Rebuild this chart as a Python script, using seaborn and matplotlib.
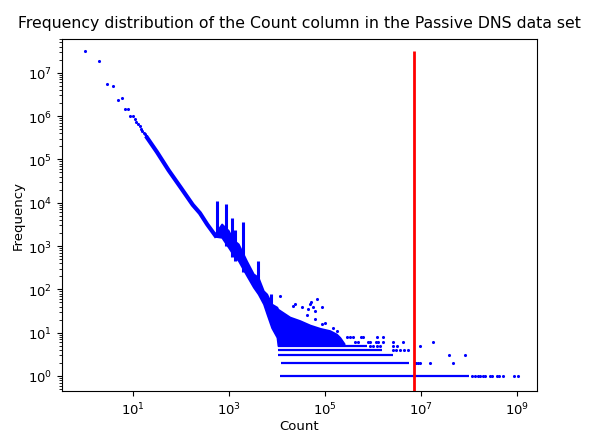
import matplotlib
matplotlib.use("Agg")
import matplotlib.pyplot as plt
import seaborn as sns
import pandas as pd
import numpy as np
from matplotlib.ticker import LogLocator, NullLocator, NullFormatter

# ---- values ----
# single counts with their own dots (count -> frequency)
low_count = [1, 2, 3, 4, 5, 6, 7, 8, 9, 10, 11, 12, 13, 14, 15, 16, 17, 18, 19, 20]
low_freq = [3.1e7, 1.85e7, 5.5e6, 5.0e6, 2.4e6, 2.6e6, 1.45e6, 1.45e6, 1.0e6, 1.0e6,
            850000, 740000, 650000, 575000, 510000, 460000, 415000, 380000, 345000, 316000]

# dense diagonal ridge (too dense to tell dots apart)
ridge_count = [20, 32, 56, 100, 178, 251, 355, 525]
ridge_freq = [316000, 148000, 56000, 22400, 8900, 5750, 3160, 1740]

# dense cloud: lower and upper edge
cloud_count = [525, 710, 980, 1230, 1580, 2340, 3240, 4070, 5250, 6170, 7760, 10000,
               10500, 18600, 30200, 49000, 79400, 126000, 174000, 204000, 251000]
cloud_low = [1660, 1580, 930, 630, 457, 209, 112, 78, 46, 27, 13, 7.8,
             5, 5, 5, 5, 5, 5, 5, 5, 5]
cloud_high = [2000, 3240, 2290, 1410, 1120, 457, 229, 191, 93, 78, 46, 39,
              35, 23, 19, 15, 12.6, 11.2, 9.3, 7.8, 5.6]

# spikes
spike_count = [560, 860, 1150, 1350, 1950, 4100, 7600]
spike_base = [1600, 1000, 560, 450, 250, 90, 20]
spike_peak = [11200, 9300, 4500, 2300, 3550, 457, 78]

# continuous horizontal bands at small frequencies
band_freq = [1, 2, 3, 4, 5]
band_start = [11500, 12300, 10500, 10500, 10500]
band_end = [1.0e8, 5.5e6, 2.6e6, 1.5e6, 7.4e5]

# sparse dots
sparse_count = [1.15e8, 1.3e8, 1.5e8, 1.7e8, 1.9e8, 2.15e8, 2.7e8, 3.0e8, 3.7e8, 4.2e8, 5.0e8, 8.5e8, 1.05e9,
                7.9e6, 8.7e6, 9.3e6, 1.5e7, 4.6e7,
                3.8e7, 8.3e7,
                2.6e6, 3.0e6, 3.7e6, 4.5e6, 5.4e6,
                8.7e5, 1.0e6, 1.2e6, 1.4e6, 2.6e6, 3.1e6, 9.3e6,
                417000, 490000, 794000, 871000, 1175000, 1290000, 1620000, 2630000, 4270000, 17800000,
                282000, 331000, 389000, 575000, 631000, 1230000, 1620000,
                11500, 21900, 24000, 33100, 41700, 44700, 49000, 51300, 57500, 61700, 61700,
                69200, 85100, 85100, 100000, 148000, 174000]
sparse_freq = [1] * 13 + [2] * 5 + [3] * 2 + [4] * 5 + [5] * 7 + [6] * 10 + [8] * 7 + \
              [71, 42, 46, 39, 25, 35, 46, 50, 39, 32, 21, 60, 40, 16, 17, 13, 11]

threshold = 7.0e6
max_freq = 3.1e7

# ---- drawing ----
fig = plt.figure(figsize=(5.89, 4.35), dpi=100)
ax = fig.add_axes([0.1053, 0.0989, 0.8064, 0.8091])
ax.set_xscale("log")
ax.set_yscale("log")

blue = "#0000ff"
ax.fill_between(cloud_count, cloud_low, cloud_high, color=blue, linewidth=1.2, edgecolor=blue)
sns.lineplot(x=ridge_count, y=ridge_freq, sort=False, estimator=None, color=blue,
             linewidth=3.0, ax=ax)
ax.vlines(spike_count, spike_base, spike_peak, color=blue, linewidth=2.2)
ax.hlines(band_freq, band_start, band_end, color=blue, linewidth=1.6)

pts = pd.DataFrame({"Count": low_count + sparse_count, "Frequency": low_freq + sparse_freq})
sns.scatterplot(data=pts, x="Count", y="Frequency", color=blue, s=5, linewidth=0, ax=ax)

ax.vlines([threshold], 0.3, max_freq, color="red", linewidth=2.0)

ax.set_xlim(0.34, 2.57e9)
ax.set_ylim(0.45, 6.0e7)
ax.set_xticks([1e1, 1e3, 1e5, 1e7, 1e9])
ax.xaxis.set_minor_locator(NullLocator())
ax.yaxis.set_major_locator(LogLocator(base=10, numticks=20))
ax.yaxis.set_minor_locator(LogLocator(base=10, subs=np.arange(2, 10), numticks=20))
ax.yaxis.set_minor_formatter(NullFormatter())
ax.tick_params(labelsize=9.5)

ax.set_xlabel("Count", fontsize=9.5, labelpad=1)
ax.set_ylabel("Frequency", fontsize=9.5, labelpad=2)
ax.set_title("Frequency distribution of the Count column in the Passive DNS data set",
             fontsize=11.3, pad=9)

fig.savefig("out.png", dpi=100)
